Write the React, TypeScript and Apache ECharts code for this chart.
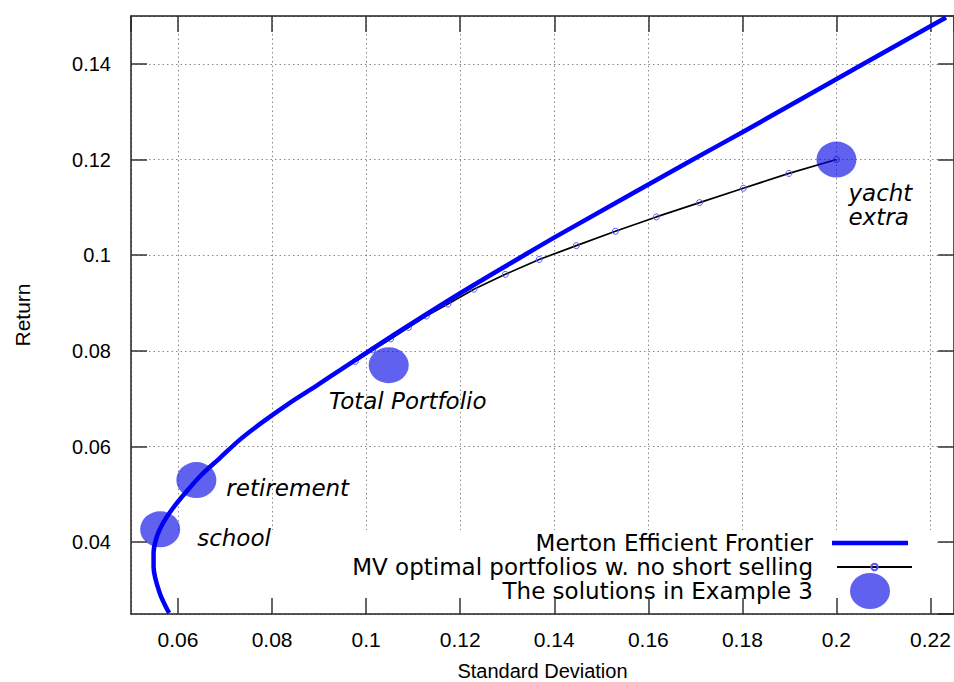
import React, { useEffect, useRef } from "react";
import * as echarts from "echarts";

// Merton efficient frontier (standard deviation, return)
const frontierSigma = [0.0581, 0.0561, 0.0548, 0.0548, 0.0555, 0.0568, 0.0589, 0.0618, 0.065, 0.0689, 0.0731, 0.0781, 0.0837, 0.0894, 0.0951, 0.1071, 0.1199, 0.1336, 0.1409, 0.1693, 0.18, 0.2056, 0.2233];
const frontierReturn = [0.0252, 0.0294, 0.0349, 0.0377, 0.0412, 0.044, 0.0471, 0.0506, 0.0541, 0.0576, 0.0614, 0.0652, 0.0691, 0.0727, 0.0764, 0.0841, 0.092, 0.1, 0.1042, 0.1199, 0.1257, 0.1399, 0.1497];

// MV optimal portfolios with no short selling
const mvSigma = [0.0977, 0.1014, 0.1052, 0.109, 0.1128, 0.1174, 0.1229, 0.1296, 0.1368, 0.1447, 0.153, 0.1617, 0.1709, 0.1802, 0.1899, 0.2];
const mvReturn = [0.0778, 0.0802, 0.0825, 0.0849, 0.0873, 0.0898, 0.0929, 0.096, 0.0991, 0.102, 0.105, 0.108, 0.111, 0.114, 0.1171, 0.12];

// Solutions in Example 3
const solutionNames = ["school", "retirement", "Total Portfolio", "yacht\nextra"];
const solutionSigma = [0.0562, 0.0639, 0.1048, 0.2];
const solutionReturn = [0.0427, 0.053, 0.077, 0.12];

const seriesNames = [
  "Merton Efficient Frontier",
  "MV optimal portfolios w. no short selling",
  "The solutions in Example 3",
];

const xTitle = "Standard Deviation";
const yTitle = "Return";

const SANS = "'Liberation Sans', Arial, Helvetica, sans-serif";
const DEJAVU = "'DejaVu Sans', sans-serif";
const ELLIPSE = "path://M0,18A20,18 0 1,1 40,18A20,18 0 1,1 0,18Z";

export default function App() {
  const ref = useRef<HTMLDivElement>(null);

  useEffect(() => {
    document.body.style.margin = "0";
    document.body.style.overflow = "hidden";
    document.documentElement.style.overflow = "hidden";
    const chart = echarts.init(ref.current!, null, { renderer: "svg", width: 954, height: 682 });

    const frontier = frontierSigma.map((s, i) => [s, frontierReturn[i]]);
    const mv = mvSigma.map((s, i) => [s, mvReturn[i]]);
    const labelCfg = [
      { align: "left", offset: [37, 9] },
      { align: "left", offset: [30, 8] },
      { align: "center", offset: [19, 36] },
      { align: "left", offset: [12, 45] },
    ];
    const solutions = solutionSigma.map((s, i) => ({
      value: [s, solutionReturn[i]],
      label: {
        show: true,
        formatter: solutionNames[i],
        position: "inside",
        align: labelCfg[i].align,
        verticalAlign: "middle",
        offset: labelCfg[i].offset,
        fontFamily: DEJAVU,
        fontStyle: "italic",
        fontSize: 23,
        lineHeight: 24,
        color: "#000",
        textBorderWidth: 0,
        textBorderColor: "transparent",
      },
    }));

    const xCommon = {
      type: "value",
      min: 0.05,
      max: 0.225,
      splitNumber: 9,
      minInterval: 0.02,
      maxInterval: 0.02,
    };
    const yCommon = {
      type: "value",
      min: 0.025,
      max: 0.15,
      splitNumber: 6,
      minInterval: 0.02,
      maxInterval: 0.02,
    };
    const lineStyleAxis = { color: "#222", width: 1.5 };
    const tickStyle = { show: true, inside: true, length: 16, lineStyle: { color: "#333", width: 1.5 } };
    const gridLine = { show: true, lineStyle: { color: "#888", width: 1, type: [1.5, 3] } };

    const legendText = (pad: number) => ({
      fontFamily: DEJAVU,
      fontSize: 23,
      lineHeight: 24,
      color: "#000",
      padding: [0, pad, 0, 0],
    });

    chart.setOption({
      animation: false,
      backgroundColor: "#fff",
      grid: { left: 131, right: 0, top: 16, bottom: 68, containLabel: false, outerBoundsMode: "none" },
      xAxis: [
        {
          ...xCommon,
          position: "bottom",
          z: 10,
          name: xTitle,
          nameLocation: "middle",
          nameGap: 47,
          nameTextStyle: { fontFamily: SANS, fontSize: 20, lineHeight: 20, color: "#000" },
          axisLine: { show: true, onZero: false, lineStyle: lineStyleAxis },
          axisTick: tickStyle,
          axisLabel: { fontFamily: SANS, fontSize: 21, color: "#000", margin: 15, showMinLabel: false, showMaxLabel: false },
          splitLine: { show: false },
        },
        {
          ...xCommon,
          position: "top",
          z: 0,
          axisLine: { show: true, onZero: false, lineStyle: lineStyleAxis },
          axisTick: tickStyle,
          axisLabel: { show: false },
          splitLine: gridLine,
        },
      ],
      yAxis: [
        {
          ...yCommon,
          position: "left",
          z: 10,
          name: yTitle,
          nameLocation: "middle",
          nameGap: 98,
          nameTextStyle: { fontFamily: SANS, fontSize: 21, color: "#000" },
          axisLine: { show: true, onZero: false, lineStyle: lineStyleAxis },
          axisTick: tickStyle,
          axisLabel: { fontFamily: SANS, fontSize: 20, color: "#000", margin: 20, showMinLabel: false, showMaxLabel: false },
          splitLine: { show: false },
        },
        {
          ...yCommon,
          position: "right",
          z: 0,
          axisLine: { show: true, onZero: false, lineStyle: lineStyleAxis },
          axisTick: tickStyle,
          axisLabel: { show: false },
          splitLine: gridLine,
        },
      ],
      graphic: {
        elements: [
          {
            type: "rect",
            z: 1,
            silent: true,
            shape: { x: 132, y: 530, width: 805, height: 83 },
            style: { fill: "#fff" },
          },
        ],
      },
      legend: [
        {
          data: [{ name: seriesNames[0], icon: "rect" }],
          orient: "vertical",
          align: "right",
          right: 46,
          top: 531,
          padding: 0,
          itemWidth: 76,
          itemHeight: 4.5,
          selectedMode: false,
          textStyle: legendText(14),
        },
        {
          data: [seriesNames[1]],
          orient: "vertical",
          align: "right",
          right: 41,
          top: 555,
          padding: 0,
          itemWidth: 75,
          itemHeight: 8,
          selectedMode: false,
          textStyle: legendText(19),
        },
        {
          data: [seriesNames[2]],
          orient: "vertical",
          align: "right",
          right: 64,
          top: 573,
          padding: 0,
          itemWidth: 40,
          itemHeight: 36,
          selectedMode: false,
          textStyle: legendText(32),
        },
      ],
      series: [
        {
          name: seriesNames[0],
          type: "line",
          data: frontier,
          symbol: "none",
          smooth: 0.3,
          z: 3,
          lineStyle: { color: "#0000ff", width: 4.5 },
          itemStyle: { color: "#0000ff" },
        },
        {
          name: seriesNames[1],
          type: "line",
          data: mv,
          symbol: "circle",
          symbolSize: 6,
          showSymbol: true,
          z: 2,
          lineStyle: { color: "#000", width: 1.7 },
          itemStyle: { color: "rgba(0,0,0,0)", borderColor: "#5555ff", borderWidth: 1 },
        },
        {
          name: seriesNames[2],
          type: "scatter",
          data: solutions,
          symbol: ELLIPSE,
          symbolSize: [40, 36],
          z: 5,
          itemStyle: { color: "rgba(0,0,230,0.62)", opacity: 1 },
        },
      ],
    });

    return () => chart.dispose();
  }, []);

  return <div ref={ref} style={{ width: 954, height: 682 }} />;
}
